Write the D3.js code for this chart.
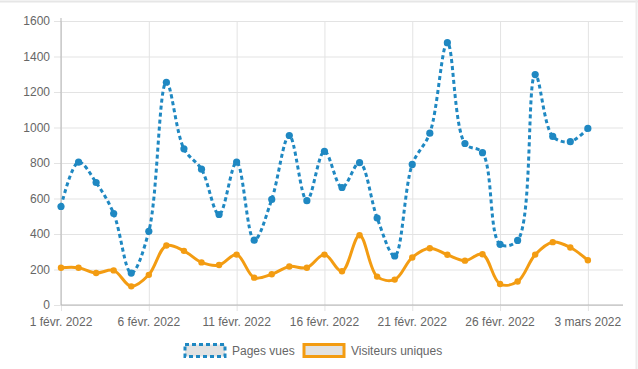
<!DOCTYPE html>
<html>
<head>
<meta charset="UTF-8">
<script src="https://cdn.jsdelivr.net/npm/d3@7"></script>
<style>
body{
  margin:0;
  background-color:#fff;
}
text{
  font-family:"Liberation Sans", Arial, sans-serif;
}
</style>
</head>
<body>
<script>
// daily stats, 1 Feb to 3 Mar 2022
var startDay = "2022-02-01"
var pagesVues = [555,805,690,515,180,415,1255,880,765,510,805,365,595,955,588,866,662,802,490,276,792,968,1478,910,858,342,364,1298,950,920,995]
var visiteurs = [210,210,180,195,105,170,335,305,240,225,284,154,173,217,210,284,190,393,160,143,268,320,283,250,286,118,132,284,354,324,252]
var yTicks = [0,200,400,600,800,1000,1200,1400,1600]
var xTickDays = ["2022-02-01","2022-02-06","2022-02-11","2022-02-16","2022-02-21","2022-02-26","2022-03-03"]
var moisFr = ["janv.","févr.","mars","avr.","mai","juin","juil.","août","sept.","oct.","nov.","déc."]
var series = [
  {name:"Pages vues", values:pagesVues, color:"#1f88c2", dash:"4,3", r:3.6},
  {name:"Visiteurs uniques", values:visiteurs, color:"#f39c12", dash:null, r:3.2}
]

var width = 638
var height = 369
var margin = {left:61, right:15, top:21, bottom:64}

var parse = d3.timeParse("%Y-%m-%d")
var t0 = parse(startDay)
var dates = pagesVues.map((d,i) => d3.timeDay.offset(t0, i))

var svg = d3.select("body").append("svg")
  .attr("width", width)
  .attr("height", height)

// light frame at top and right of the panel
svg.append("line").attr("x1",0).attr("x2",width).attr("y1",1.5).attr("y2",1.5)
  .attr("stroke","#e6e6e6").attr("stroke-width",2)
svg.append("line").attr("x1",636.5).attr("x2",636.5).attr("y1",0).attr("y2",height)
  .attr("stroke","#ececec").attr("stroke-width",2)

var x = d3.scaleTime()
  .domain([t0, d3.timeDay.offset(t0, 32)])
  .range([margin.left, width - margin.right])

var y = d3.scaleLinear()
  .domain([0,1600])
  .range([height - margin.bottom, margin.top])

var fmt = d => d.getDate() + " " + moisFr[d.getMonth()] + " " + d.getFullYear()

// grid
var gx = svg.append("g")
  .attr("transform","translate(0," + y(0) + ")")
  .call(d3.axisBottom(x)
    .tickValues(xTickDays.map(parse))
    .tickSize(-(y(0) - margin.top))
    .tickSizeOuter(0)
    .tickFormat(""))
gx.selectAll(".tick line").attr("stroke","#e3e3e3").attr("y1",6)
gx.select(".domain").remove()

var gy = svg.append("g")
  .attr("transform","translate(" + margin.left + ",0)")
  .call(d3.axisLeft(y)
    .tickValues(yTicks)
    .tickSize(-(width - margin.right - margin.left))
    .tickSizeOuter(0)
    .tickFormat(""))
gy.selectAll(".tick line").attr("stroke","#e3e3e3").attr("x1",-7)
gy.select(".domain").remove()

// axes
svg.append("line")
  .attr("x1",margin.left).attr("x2",margin.left)
  .attr("y1",margin.top - 3).attr("y2",y(0))
  .attr("stroke","#b5b5b5")
svg.append("line")
  .attr("x1",margin.left).attr("x2",width - margin.right)
  .attr("y1",y(0)).attr("y2",y(0))
  .attr("stroke","#b5b5b5")

svg.append("g").selectAll("text")
  .data(yTicks)
  .enter().append("text")
  .attr("x", margin.left - 11)
  .attr("y", d => y(d))
  .attr("dy","0.35em")
  .attr("text-anchor","end")
  .attr("font-size",12)
  .attr("fill","#666")
  .text(d => d)

svg.append("g").selectAll("text")
  .data(xTickDays.map(parse))
  .enter().append("text")
  .attr("x", d => x(d))
  .attr("y", y(0) + 21)
  .attr("text-anchor","middle")
  .attr("font-size",12)
  .attr("fill","#666")
  .text(fmt)

// lines
var line = d3.line()
  .x((d,i) => x(dates[i]))
  .y(d => y(d))
  .curve(d3.curveCatmullRom.alpha(0.5))

series.forEach(function(s){
  svg.append("path")
    .attr("d", line(s.values))
    .attr("fill","none")
    .attr("stroke", s.color)
    .attr("stroke-width",3)
    .attr("stroke-dasharray", s.dash)

  svg.append("g").selectAll("circle")
    .data(s.values)
    .enter().append("circle")
    .attr("cx",(d,i) => x(dates[i]))
    .attr("cy",d => y(d))
    .attr("r", s.r)
    .attr("fill", s.color)
})

// legend
var legendX = [185, 304]
series.forEach(function(s, i){
  svg.append("rect")
    .attr("x", legendX[i]).attr("y", 344.5)
    .attr("width", 40).attr("height", 12)
    .attr("fill","#e2e2e2")
    .attr("stroke", s.color)
    .attr("stroke-width",3)
    .attr("stroke-dasharray", s.dash)
  svg.append("text")
    .attr("x", legendX[i] + 47)
    .attr("y", 350.5)
    .attr("dy","0.35em")
    .attr("font-size",12)
    .attr("fill","#666")
    .text(s.name)
})
</script>
</body>
</html>
